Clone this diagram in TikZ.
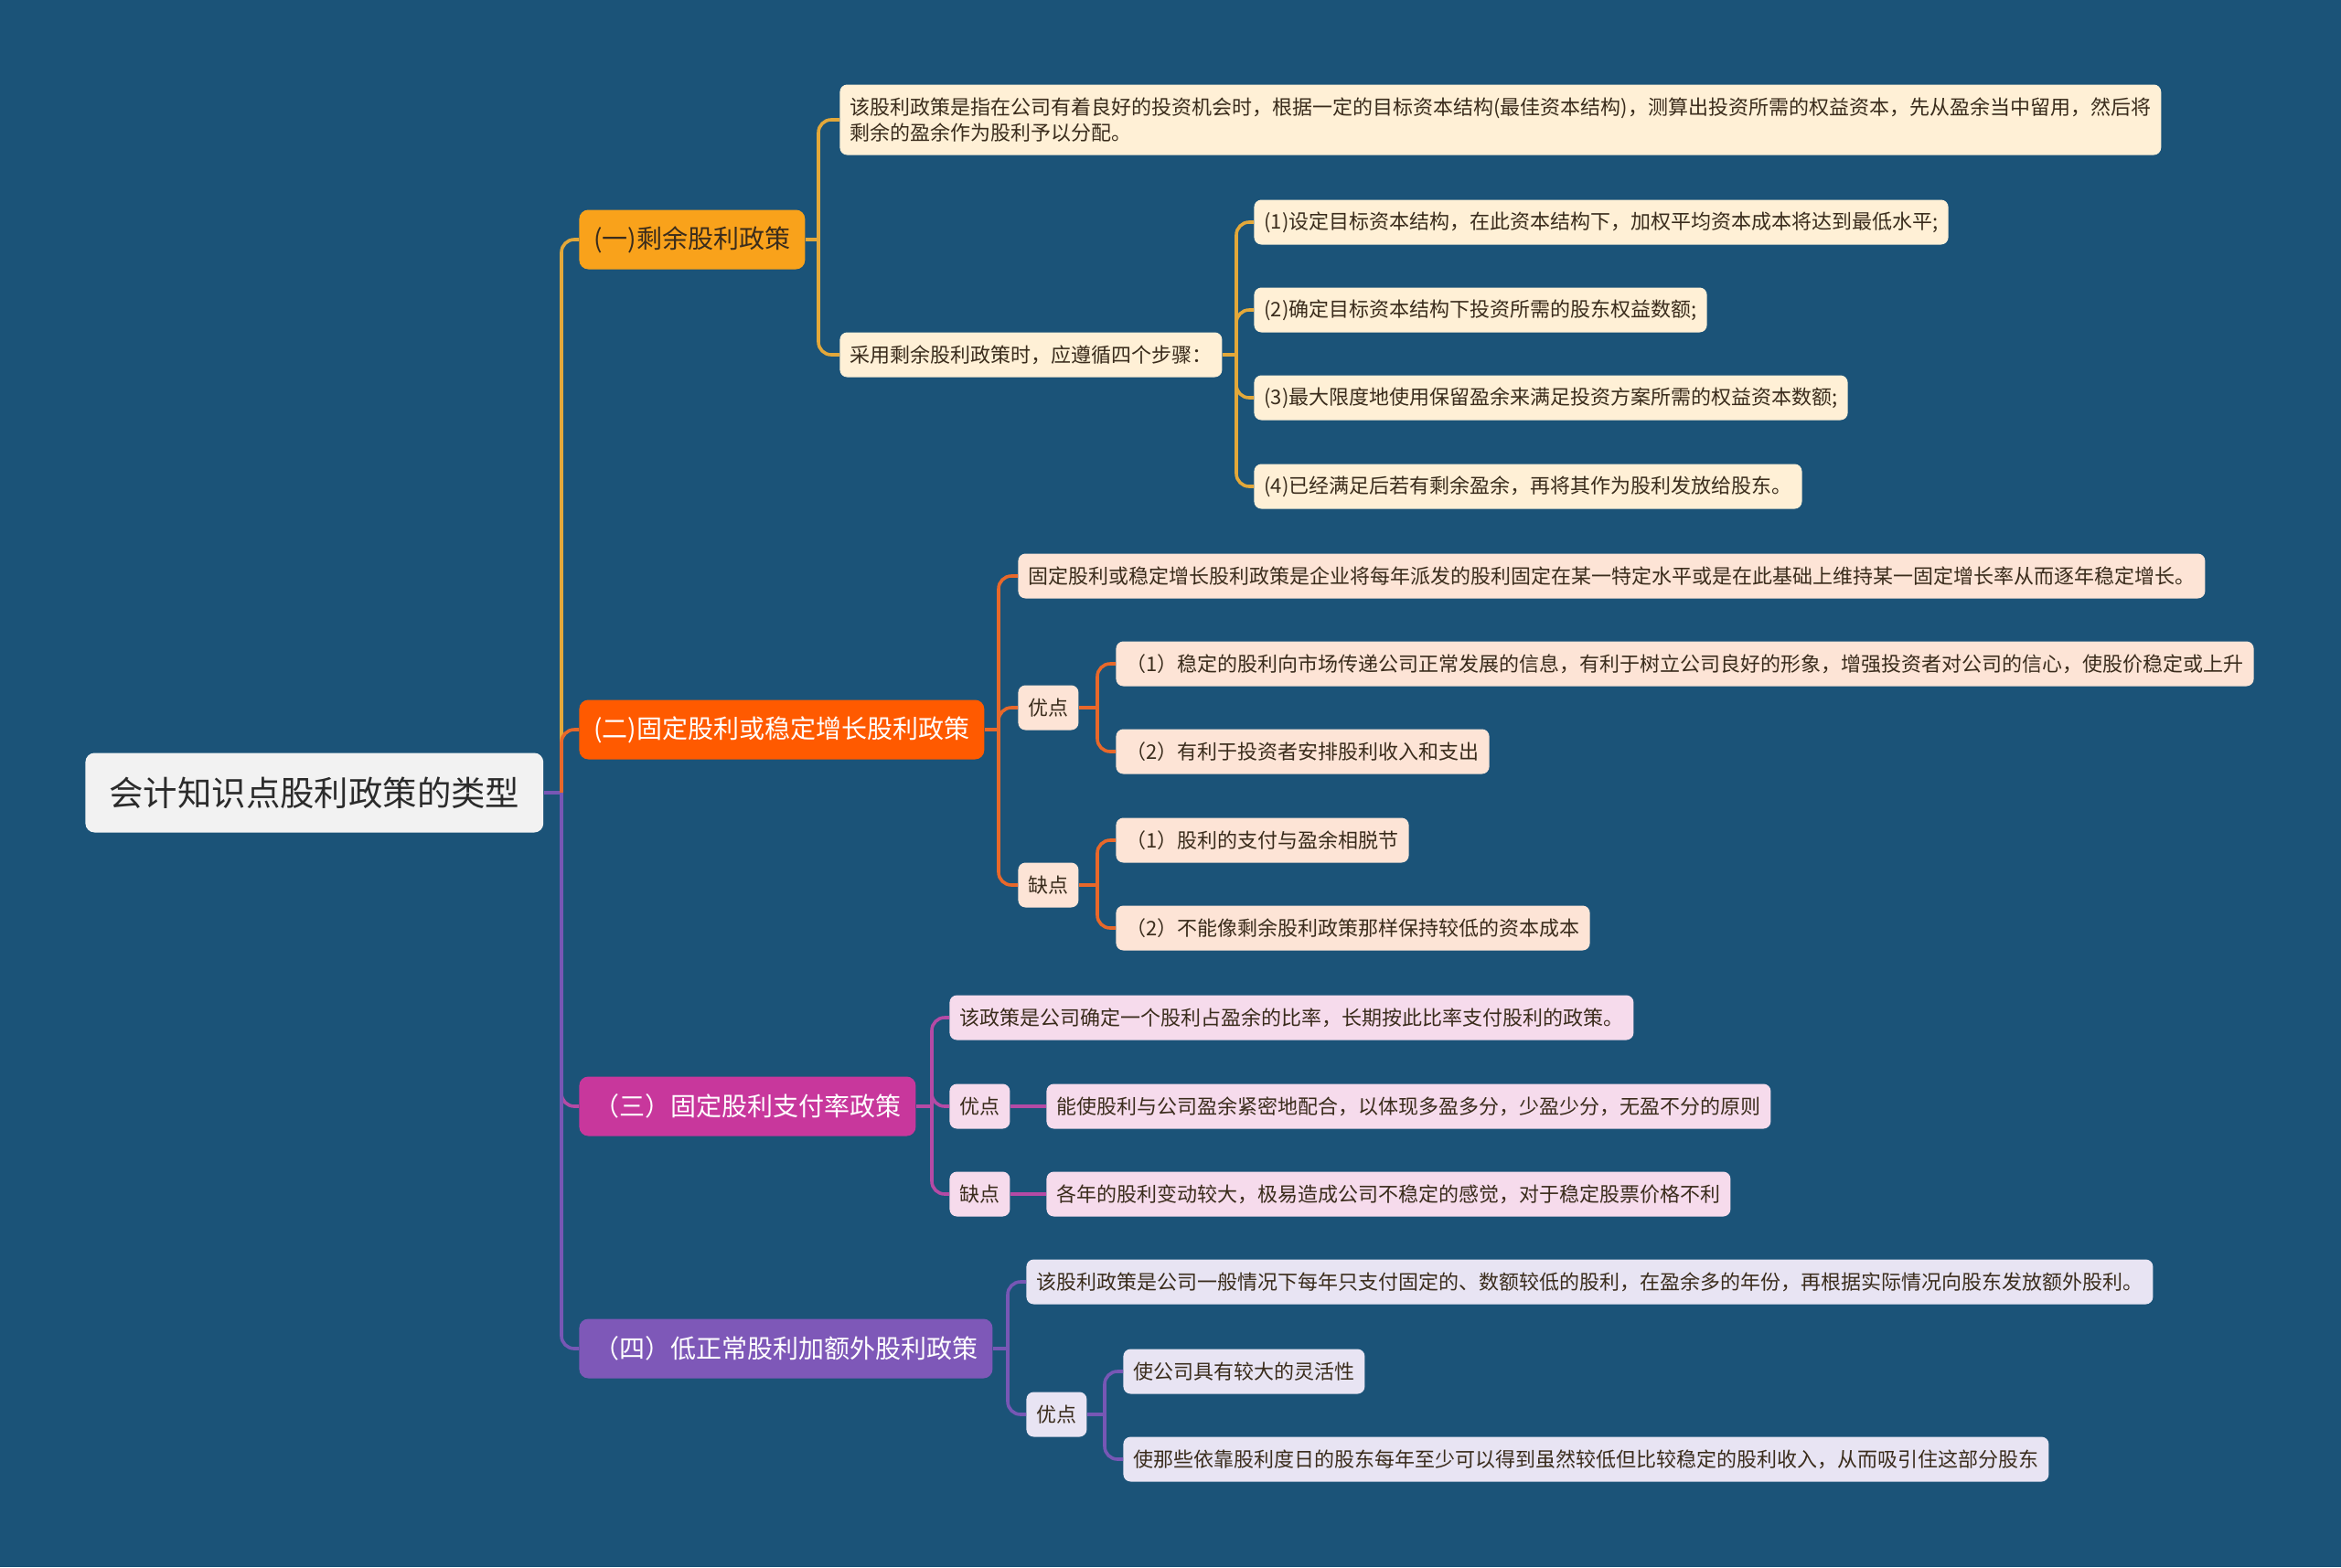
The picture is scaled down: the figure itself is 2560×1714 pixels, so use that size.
\documentclass[tikz,border=0pt]{standalone}
\usepackage{fontspec}
\setmainfont{Noto Sans CJK SC}
\usetikzlibrary{positioning}
\definecolor{Sea}{HTML}{1B5378}
\definecolor{RootFill}{HTML}{F2F2F2}
\definecolor{RootInk}{HTML}{2B2B2B}
\definecolor{LeafInk}{HTML}{3A2C1C}
\definecolor{OneMain}{HTML}{F9A21B}
\definecolor{OneLine}{HTML}{E3A83A}
\definecolor{OneLeaf}{HTML}{FFF0D6}
\definecolor{TwoMain}{HTML}{FF5A00}
\definecolor{TwoLine}{HTML}{E8682A}
\definecolor{TwoLeaf}{HTML}{FDE4D6}
\definecolor{ThreeMain}{HTML}{C8379C}
\definecolor{ThreeLine}{HTML}{B54AA5}
\definecolor{ThreeLeaf}{HTML}{F6DBEC}
\definecolor{FourMain}{HTML}{7E58B8}
\definecolor{FourLine}{HTML}{7757B5}
\definecolor{FourLeaf}{HTML}{E8E4F3}

\begin{document}
\begin{tikzpicture}[x=0.5pt,y=-0.5pt,
  box/.style={anchor=west,rounded corners=4pt,inner ysep=0pt},
  rootbox/.style={box,fill=RootFill,text=RootInk,font=\fontsize{18.7}{22}\selectfont,
    minimum height=43.5pt,inner xsep=13pt,rounded corners=5pt},
  mainbox/.style={box,fill=#1,text=white,font=\fontsize{14}{17}\selectfont,
    minimum height=32.5pt,inner xsep=8pt,rounded corners=5pt},
  leafbox/.style={box,fill=#1,text=LeafInk,font=\fontsize{11}{14}\selectfont,
    minimum height=24.5pt,inner xsep=5.5pt},
  link/.style={draw=#1,line width=1.8pt,rounded corners=7pt},
  stub/.style={draw=#1,line width=1.8pt}]
  \useasboundingbox (0,0) rectangle (2560,1714);
  \fill[Sea] (0,0) rectangle (2560,1714);

  % root and main branches
  \node[rootbox] (root) at (93,867) {会计知识点股利政策的类型};
  \node[mainbox=OneMain,text=LeafInk] (pone) at (633,262) {(一)剩余股利政策};
  \node[mainbox=TwoMain] (ptwo) at (633,798) {(二)固定股利或稳定增长股利政策};
  \node[mainbox=ThreeMain] (pthree) at (633,1210) {（三）固定股利支付率政策};
  \node[mainbox=FourMain] (pfour) at (633,1475) {（四）低正常股利加额外股利政策};

  % (一)
  \node[leafbox=OneLeaf,align=left,minimum height=38.5pt] (onedef) at (918,131)
    {该股利政策是指在公司有着良好的投资机会时，根据一定的目标资本结构(最佳资本结构)，测算出投资所需的权益资本，先从盈余当中留用，然后将\\剩余的盈余作为股利予以分配。};
  \node[leafbox=OneLeaf] (onesteps) at (918,388) {采用剩余股利政策时，应遵循四个步骤：};
  \node[leafbox=OneLeaf] (stepa) at (1371,243) {(1)设定目标资本结构，在此资本结构下，加权平均资本成本将达到最低水平;};
  \node[leafbox=OneLeaf] (stepb) at (1371,339) {(2)确定目标资本结构下投资所需的股东权益数额;};
  \node[leafbox=OneLeaf] (stepc) at (1371,435) {(3)最大限度地使用保留盈余来满足投资方案所需的权益资本数额;};
  \node[leafbox=OneLeaf] (stepd) at (1371,532) {(4)已经满足后若有剩余盈余，再将其作为股利发放给股东。};

  % (二)
  \node[leafbox=TwoLeaf] (twodef) at (1113,630) {固定股利或稳定增长股利政策是企业将每年派发的股利固定在某一特定水平或是在此基础上维持某一固定增长率从而逐年稳定增长。};
  \node[leafbox=TwoLeaf] (twopro) at (1113,774) {优点};
  \node[leafbox=TwoLeaf] (twocon) at (1113,968) {缺点};
  \node[leafbox=TwoLeaf] (twoproa) at (1220,726) {（1）稳定的股利向市场传递公司正常发展的信息，有利于树立公司良好的形象，增强投资者对公司的信心，使股价稳定或上升};
  \node[leafbox=TwoLeaf] (twoprob) at (1220,822) {（2）有利于投资者安排股利收入和支出};
  \node[leafbox=TwoLeaf] (twocona) at (1220,919) {（1）股利的支付与盈余相脱节};
  \node[leafbox=TwoLeaf] (twoconb) at (1220,1015) {（2）不能像剩余股利政策那样保持较低的资本成本};

  % (三)
  \node[leafbox=ThreeLeaf] (threedef) at (1038,1113) {该政策是公司确定一个股利占盈余的比率，长期按此比率支付股利的政策。};
  \node[leafbox=ThreeLeaf] (threepro) at (1038,1210) {优点};
  \node[leafbox=ThreeLeaf] (threecon) at (1038,1306) {缺点};
  \node[leafbox=ThreeLeaf] (threeproa) at (1144,1210) {能使股利与公司盈余紧密地配合，以体现多盈多分，少盈少分，无盈不分的原则};
  \node[leafbox=ThreeLeaf] (threecona) at (1144,1306) {各年的股利变动较大，极易造成公司不稳定的感觉，对于稳定股票价格不利};

  % (四)
  \node[leafbox=FourLeaf] (fourdef) at (1122,1402) {该股利政策是公司一般情况下每年只支付固定的、数额较低的股利，在盈余多的年份，再根据实际情况向股东发放额外股利。};
  \node[leafbox=FourLeaf] (fourpro) at (1122,1547) {优点};
  \node[leafbox=FourLeaf] (fourproa) at (1228,1500) {使公司具有较大的灵活性};
  \node[leafbox=FourLeaf] (fourprob) at (1228,1596) {使那些依靠股利度日的股东每年至少可以得到虽然较低但比较稳定的股利收入，从而吸引住这部分股东};

  % junctions
  \coordinate (rootj) at (614,867);
  \coordinate (onej) at (895,262);
  \coordinate (stepsj) at (1352,388);
  \coordinate (twoj) at (1092,798);
  \coordinate (twoproj) at (1200,774);
  \coordinate (twoconj) at (1200,968);
  \coordinate (threej) at (1019,1210);
  \coordinate (fourj) at (1102,1475);
  \coordinate (fourproj) at (1208,1547);

  % connectors
  \draw[stub=FourLine] (root.east) -- (rootj);
  \draw[link=OneLine] (rootj) |- (pone.west);
  \draw[link=TwoLine] (rootj) |- (ptwo.west);
  \draw[link=ThreeLine] (rootj) |- (pthree.west);
  \draw[link=FourLine] (rootj) |- (pfour.west);

  \draw[stub=OneLine] (pone.east) -- (onej);
  \foreach \kid in {onedef,onesteps} \draw[link=OneLine] (onej) |- (\kid.west);
  \draw[stub=OneLine] (onesteps.east) -- (stepsj);
  \foreach \kid in {stepa,stepb,stepc,stepd} \draw[link=OneLine] (stepsj) |- (\kid.west);

  \draw[stub=TwoLine] (ptwo.east) -- (twoj);
  \foreach \kid in {twodef,twopro,twocon} \draw[link=TwoLine] (twoj) |- (\kid.west);
  \draw[stub=TwoLine] (twopro.east) -- (twoproj);
  \foreach \kid in {twoproa,twoprob} \draw[link=TwoLine] (twoproj) |- (\kid.west);
  \draw[stub=TwoLine] (twocon.east) -- (twoconj);
  \foreach \kid in {twocona,twoconb} \draw[link=TwoLine] (twoconj) |- (\kid.west);

  \draw[stub=ThreeLine] (pthree.east) -- (threej);
  \foreach \kid in {threedef,threepro,threecon} \draw[link=ThreeLine] (threej) |- (\kid.west);
  \draw[stub=ThreeLine] (threepro.east) -- (threeproa.west);
  \draw[stub=ThreeLine] (threecon.east) -- (threecona.west);

  \draw[stub=FourLine] (pfour.east) -- (fourj);
  \foreach \kid in {fourdef,fourpro} \draw[link=FourLine] (fourj) |- (\kid.west);
  \draw[stub=FourLine] (fourpro.east) -- (fourproj);
  \foreach \kid in {fourproa,fourprob} \draw[link=FourLine] (fourproj) |- (\kid.west);
\end{tikzpicture}
\end{document}
